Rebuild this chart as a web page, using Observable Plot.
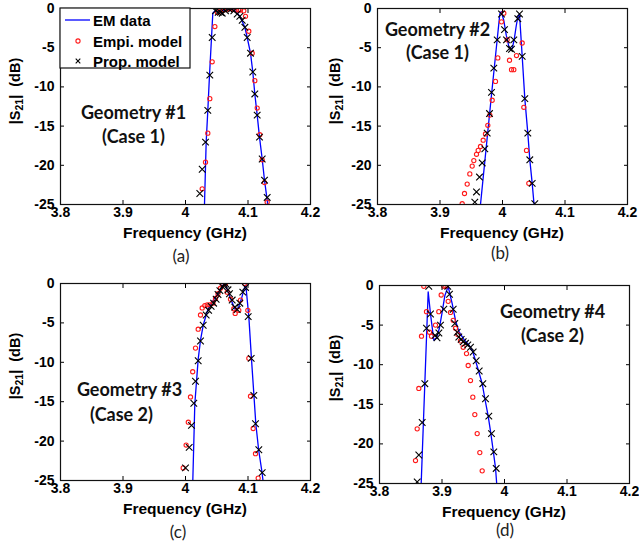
<!DOCTYPE html>
<html><head><meta charset="utf-8">
<script src="https://cdn.jsdelivr.net/npm/d3@7"></script>
<script src="https://cdn.jsdelivr.net/npm/@observablehq/plot@0.6"></script>
<style>
body{margin:0;background:#fff;}
#fig{position:relative;width:639px;height:545px;background:#fff;overflow:hidden;}
.panel{position:absolute;}
.cap{position:absolute;font-family:Lato,"Open Sans",sans-serif;font-size:17px;color:#222;transform:translate(-50%,-50%);white-space:nowrap;}
</style></head><body><div id="fig"></div>
<script>
// ---- tick values & labels ----
const xTicks = [3.8, 3.9, 4, 4.1, 4.2];
const yTicks = [0, -5, -10, -15, -20, -25];
const legendLabels = ["EM data", "Empi. model", "Prop. model"];
const xTitle = "Frequency (GHz)";
const captions = ["(a)", "(b)", "(c)", "(d)"];
const geoTitles = [["Geometry #1", "(Case 1)"], ["Geometry #2", "(Case 1)"], ["Geometry #3", "(Case 2)"], ["Geometry #4", "(Case 2)"]];

// ---- (a) Geometry #1 ----
const fa_em = [4.0304, 4.032, 4.0331, 4.0357, 4.0384, 4.0411, 4.0437, 4.047, 4.052, 4.058, 4.065, 4.072, 4.078, 4.082, 4.0869, 4.095, 4.0987, 4.104, 4.1077, 4.1109, 4.1147, 4.1184, 4.1227, 4.1264, 4.1316];
const sa_em = [-25, -20.2, -17, -13, -8.5, -4.5, -0.6, -0.3, -0.4, -0.3, -0.05, -0.05, -0.2, -0.5, -1.0, -2.4, -3.7, -5.7, -8.1, -10.9, -13.6, -16.4, -19.2, -21.9, -25];
const fa_empi = [4.0267, 4.032, 4.0357, 4.0389, 4.0427, 4.047, 4.051, 4.056, 4.061, 4.066, 4.071, 4.076, 4.081, 4.085, 4.088, 4.0933, 4.096, 4.1013, 4.1067, 4.1109, 4.1147, 4.1189, 4.1227, 4.1264, 4.1307];
const sa_empi = [-23.0, -19.6, -15.9, -11.5, -6.8, -2.3, -0.5, -0.3, -0.2, -0.1, 0, -0.1, -0.2, -0.2, -0.2, -0.3, -1.0, -2.9, -5.7, -9.2, -12.7, -16.1, -19.3, -22.2, -24.7];
const fa_prop = [4.0229, 4.0267, 4.032, 4.0357, 4.0389, 4.0427, 4.048, 4.0523, 4.056, 4.0587, 4.064, 4.0693, 4.0736, 4.0773, 4.0827, 4.0869, 4.0907, 4.095, 4.0987, 4.104, 4.1077, 4.1109, 4.1147, 4.1184, 4.1227, 4.1264, 4.1307];
const sa_prop = [-23.6, -20.5, -17.05, -13.0, -8.5, -3.7, -0.3, -0.5, -0.5, -0.6, -0.3, -0.05, -0.05, -0.3, -0.7, -1.0, -1.5, -2.4, -3.7, -5.7, -8.1, -10.9, -13.6, -16.4, -19.2, -21.9, -24.1];

// ---- (b) Geometry #2 ----
const fb_em = [3.9648, 3.9824, 3.9957, 3.998, 4.002, 4.006, 4.010, 4.013, 4.016, 4.019, 4.022, 4.0245, 4.0272, 4.0315, 4.0357, 4.0405, 4.0437, 4.0475, 4.0505];
const sb_em = [-25, -11.0, -0.7, -0.4, -1.5, -3.4, -4.8, -5.3, -5.0, -3.8, -2.2, -1.1, -0.7, -6.1, -11.5, -15.9, -19.3, -22.3, -25];
const fb_empi = [3.9355, 3.9392, 3.9435, 3.9477, 3.9515, 3.9541, 3.9584, 3.9611, 3.9648, 3.9691, 3.9728, 3.9765, 3.9797, 3.9835, 3.9888, 3.9925, 3.9984, 4.0021, 4.0075, 4.0112, 4.0144, 4.0181, 4.0224, 4.0315, 4.0341, 4.0384, 4.0421];
const sb_empi = [-24.9, -23.6, -22.4, -21.1, -20.1, -19.4, -18.6, -18.1, -17.6, -16.8, -16.0, -14.9, -13.6, -11.7, -9.3, -6.3, -1.7, -0.6, -4.0, -6.6, -7.8, -7.8, -6.0, -4.4, -12.6, -18.1, -22.3];
const fb_prop = [3.9557, 3.9584, 3.9632, 3.9675, 3.9717, 3.9755, 3.9792, 3.9824, 3.9861, 3.9915, 3.9984, 4.0032, 4.0064, 4.0112, 4.0144, 4.0181, 4.0245, 4.0272, 4.0315, 4.0357, 4.0405, 4.0437, 4.0475, 4.0517];
const sb_prop = [-24.7, -23.4, -21.5, -19.7, -17.9, -15.9, -13.4, -10.7, -7.6, -4.0, -0.7, -2.7, -4.0, -5.1, -5.2, -4.0, -1.3, -0.7, -6.1, -11.5, -15.9, -19.3, -22.3, -24.9];

// ---- (c) Geometry #3 ----
const fc_em = [4.0117, 4.0149, 4.0203, 4.024, 4.0283, 4.0331, 4.0363, 4.0453, 4.0533, 4.060, 4.0629, 4.068, 4.074, 4.080, 4.085, 4.090, 4.0949, 4.0965, 4.1013, 4.1055, 4.1095, 4.1125, 4.117, 4.1225, 4.124];
const sc_em = [-25, -15.3, -9.6, -7.2, -5.3, -4.0, -3.2, -2.0, -1.1, -0.2, 0, -1.0, -2.3, -3.4, -3.0, -1.8, -0.4, -0.2, -4.2, -9.5, -14.2, -17.8, -21.1, -24.0, -25];
const fc_empi = [3.9963, 4.001, 4.0045, 4.008, 4.0115, 4.016, 4.0203, 4.024, 4.0267, 4.0309, 4.0347, 4.039, 4.044, 4.048, 4.052, 4.056, 4.060, 4.064, 4.0667, 4.072, 4.0773, 4.0795, 4.0853, 4.088, 4.0949, 4.0997, 4.1013, 4.104, 4.1083, 4.112, 4.1163];
const sc_empi = [-23.4, -20.5, -17.6, -14.4, -11.2, -8.2, -5.8, -4.0, -3.1, -2.8, -2.7, -2.7, -2.5, -1.9, -1.3, -0.6, -0.1, 0, -1.1, -2.0, -3.2, -3.8, -3.4, -2.1, 0, -3.4, -9.5, -14.3, -18.4, -21.6, -24.7];
const fc_prop = [4.000, 4.0059, 4.0096, 4.0133, 4.016, 4.0203, 4.024, 4.0283, 4.0331, 4.037, 4.041, 4.045, 4.049, 4.052, 4.055, 4.059, 4.062, 4.065, 4.068, 4.0704, 4.0747, 4.0789, 4.0827, 4.0869, 4.0917, 4.096, 4.1003, 4.1051, 4.1093, 4.112, 4.1173, 4.1227];
const sc_prop = [-23.4, -20.8, -18.0, -15.2, -12.4, -9.8, -7.3, -5.3, -4.0, -3.4, -2.9, -2.5, -2.0, -1.4, -0.9, -0.4, -0.1, -0.1, -0.8, -1.3, -2.1, -3.0, -3.3, -2.5, -1.1, -0.5, -4.2, -9.5, -14.2, -17.8, -21.1, -24.0];

// ---- (d) Geometry #4 ----
const fd_em = [3.8667, 3.8725, 3.8779, 3.8816, 3.8869, 3.8912, 3.8955, 3.9000, 3.9045, 3.9099, 3.9130, 3.9163, 3.9216, 3.9269, 3.9350, 3.9430, 3.9490, 3.9537, 3.9585, 3.9643, 3.9686, 3.9739, 3.9782, 3.9822, 3.9857, 3.9875];
const sd_em = [-25, -12.4, -0.8, -3.6, -6.9, -6.6, -5.5, -3.5, -1.3, -0.1, -1.2, -2.3, -4.4, -5.8, -6.8, -7.5, -8.3, -9.5, -10.8, -12.4, -14.3, -16.5, -18.7, -21.0, -23.1, -25];
const fd_empi = [3.8576, 3.8603, 3.8629, 3.8672, 3.8709, 3.8752, 3.8800, 3.8832, 3.8896, 3.8949, 3.8987, 3.9029, 3.9060, 3.9099, 3.9136, 3.9179, 3.9216, 3.9253, 3.9296, 3.9339, 3.9392, 3.9419, 3.9456, 3.9493, 3.9525, 3.9563, 3.9605, 3.9643];
const sd_empi = [-22.1, -18.1, -13.0, -6.4, -0.1, -3.3, -5.9, -6.4, -5.0, -3.3, -1.2, -0.1, -0.1, -2.0, -3.4, -4.4, -5.4, -6.2, -7.0, -7.8, -8.6, -10.1, -12.0, -14.1, -16.3, -18.7, -21.1, -23.4];
const fd_prop = [3.8603, 3.8629, 3.8683, 3.8725, 3.8752, 3.8789, 3.8816, 3.8890, 3.8920, 3.8950, 3.8976, 3.9029, 3.9093, 3.9120, 3.9179, 3.9205, 3.9243, 3.9269, 3.9307, 3.9339, 3.9376, 3.9413, 3.9456, 3.9499, 3.9547, 3.9595, 3.9653, 3.9696, 3.9749, 3.9792, 3.9829, 3.9867];
const sd_prop = [-24.8, -21.4, -17.3, -12.4, -5.4, -0.1, -3.6, -6.3, -6.6, -6.0, -5.0, -3.0, -0.1, -1.1, -3.0, -4.8, -5.9, -6.5, -6.8, -7.1, -7.3, -7.5, -7.8, -8.4, -9.5, -10.8, -12.4, -14.3, -16.5, -18.7, -21.0, -23.1];

// ---- layout (not data) ----
const layout = [
  {left: 0,   top: 0,   width: 320, ml: 60, mr: 10, ph: 196, geo: [[3.9168, -13.4], [3.9168, -16.45]], cap: [181, 255], legend: true},
  {left: 320, top: 0,   width: 319, ml: 57, mr: 12, ph: 196, geo: [[3.896, -2.8], [3.896, -5.74]], cap: [500, 252]},
  {left: 0,   top: 275, width: 320, ml: 60, mr: 10, ph: 197, geo: [[3.9104, -13.6], [3.8976, -16.67]], cap: [178, 531]},
  {left: 320, top: 277, width: 319, ml: 59, mr: 10, ph: 198, geo: [[4.0768, -3.36], [4.0768, -6.4]], cap: [505, 529]}
];
const series = [
  [fa_em, sa_em, fa_empi, sa_empi, fa_prop, sa_prop],
  [fb_em, sb_em, fb_empi, sb_empi, fb_prop, sb_prop],
  [fc_em, sc_em, fc_empi, sc_empi, fc_prop, sc_prop],
  [fd_em, sd_em, fd_empi, sd_empi, fd_prop, sd_prop]
];

const BLUE = "#0000ff", RED = "#ff1a1a", BLACK = "#000";
const AX_FONT = "'Liberation Sans', Arial, Helvetica, sans-serif";
const rows = (f, s) => f.map((v, i) => ({f: v, s: s[i]}));
const fig = document.getElementById("fig");

layout.forEach((L, k) => {
  const [fe, se, fm, sm, fp, sp] = series[k];
  const H = 245, mt = 8, mb = H - mt - L.ph;
  const geo = geoTitles[k].map((t, i) => ({f: L.geo[i][0], s: L.geo[i][1], t}));
  const svg = Plot.plot({
    width: L.width, height: H,
    marginLeft: L.ml, marginRight: L.mr, marginTop: mt, marginBottom: mb,
    x: {domain: [3.8, 4.2], label: null},
    y: {domain: [-25, 0], label: null},
    style: {background: "transparent", overflow: "visible", fontFamily: AX_FONT, fontSize: "14px", fontWeight: "bold", color: "#000"},
    marks: [
      Plot.line(rows(fe, se), {x: "f", y: "s", stroke: BLUE, strokeWidth: 1.3, clip: true}),
      Plot.dot(rows(fm, sm), {x: "f", y: "s", r: 2.1, stroke: RED, strokeWidth: 1.1, clip: true}),
      Plot.dot(rows(fp, sp), {x: "f", y: "s", symbol: "times", r: 3.1, stroke: BLACK, strokeWidth: 1.1, clip: true}),
      Plot.text(geo, {x: "f", y: "s", text: "t", fontFamily: "Lato, 'Open Sans', sans-serif", fontWeight: 700, fontSize: 18, fill: "#111"}),
      Plot.axisX(xTicks, {anchor: "bottom", tickSize: -4, tickPadding: 7, tickFormat: d => String(d), label: null}),
      Plot.axisX(xTicks, {anchor: "top", tickSize: -4, tickFormat: () => "", label: null}),
      Plot.axisY(yTicks, {anchor: "left", tickSize: -4, tickPadding: 10, tickFormat: d => String(d), label: null}),
      Plot.axisY(yTicks, {anchor: "right", tickSize: -4, tickFormat: () => "", label: null}),
      Plot.frame({stroke: "#111", strokeWidth: 1.2})
    ]
  });
  svg.classList.add("panel");
  svg.style.left = L.left + "px";
  svg.style.top = L.top + "px";
  fig.appendChild(svg);

  const S = d3.select(svg);
  const pw = L.width - L.ml - L.mr;
  // x axis title
  S.append("text").attr("x", L.ml + pw / 2).attr("y", mt + L.ph + 28)
    .attr("text-anchor", "middle").attr("dominant-baseline", "central")
    .style("font-family", AX_FONT).style("font-weight", "bold").style("font-size", "15.5px")
    .text(xTitle);
  // y axis title |S21| (dB)
  const yt = S.append("text")
    .attr("transform", `translate(15,${mt + 83}) rotate(-90)`)
    .attr("text-anchor", "middle").attr("dominant-baseline", "central")
    .style("font-family", AX_FONT).style("font-weight", "bold").style("font-size", "14.5px");
  yt.append("tspan").text("|S");
  yt.append("tspan").attr("dy", 4).style("font-size", "10.5px").text("21");
  yt.append("tspan").attr("dy", -4).text("|\u00a0\u00a0(dB)");

  // legend (panel a only)
  if (L.legend) {
    const g = S.append("g").attr("text-anchor", "start")
      .style("font-family", AX_FONT).style("font-weight", "bold").style("font-size", "15px");
    const x0 = L.ml, y0 = mt;
    g.append("rect").attr("x", x0).attr("y", y0).attr("width", 130).attr("height", 60)
      .attr("fill", "#fff").attr("stroke", "#111").attr("stroke-width", 1.2);
    const rowsY = [y0 + 12, y0 + 33, y0 + 53];
    g.append("line").attr("x1", x0 + 5).attr("x2", x0 + 30).attr("y1", rowsY[0]).attr("y2", rowsY[0])
      .attr("stroke", BLUE).attr("stroke-width", 1.3);
    g.append("circle").attr("cx", x0 + 18).attr("cy", rowsY[1]).attr("r", 2.1)
      .attr("fill", "none").attr("stroke", RED).attr("stroke-width", 1.1);
    g.append("path").attr("transform", `translate(${x0 + 18},${rowsY[2]})`)
      .attr("d", "M-2.3,-2.3L2.3,2.3M-2.3,2.3L2.3,-2.3").attr("fill", "none").attr("stroke", BLACK).attr("stroke-width", 1.1);
    legendLabels.forEach((t, i) => {
      g.append("text").attr("x", x0 + 33).attr("y", rowsY[i]).attr("text-anchor", "start")
        .attr("dominant-baseline", "central").attr("fill", "#000").text(t);
    });
  }

  const c = document.createElement("div");
  c.className = "cap";
  c.style.left = L.cap[0] + "px";
  c.style.top = L.cap[1] + "px";
  c.textContent = captions[k];
  fig.appendChild(c);
});
</script></body></html>
